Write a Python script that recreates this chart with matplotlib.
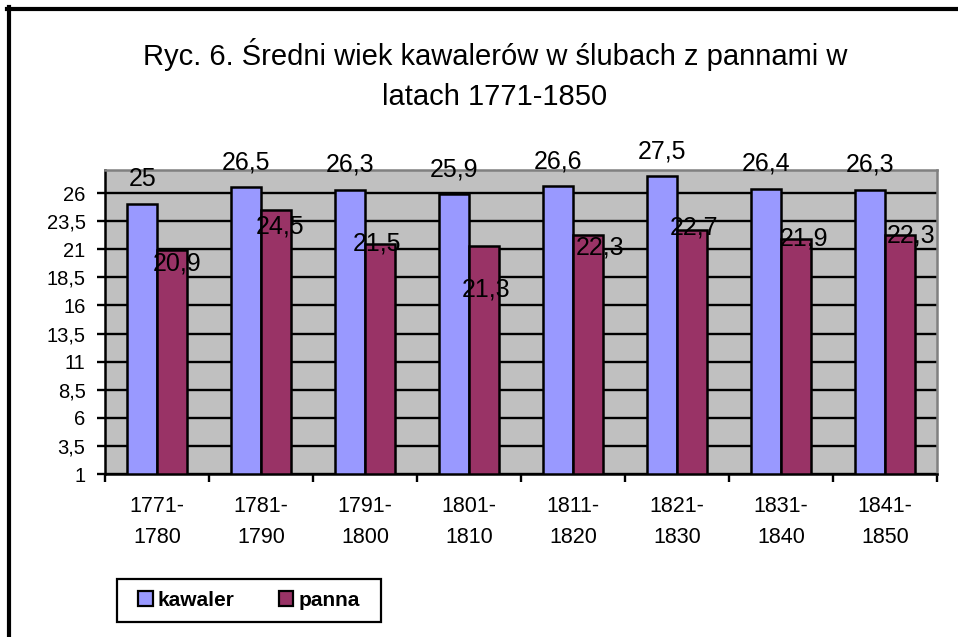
import numpy as np
import matplotlib
matplotlib.use("Agg")
import matplotlib.pyplot as plt
from matplotlib.patches import Rectangle, Patch
from matplotlib.lines import Line2D

plt.rcParams['font.family'] = ['Liberation Sans', 'DejaVu Sans']

# dane z wykresu
okresy = ['1771-\n1780', '1781-\n1790', '1791-\n1800', '1801-\n1810',
          '1811-\n1820', '1821-\n1830', '1831-\n1840', '1841-\n1850']
kawaler = [25, 26.5, 26.3, 25.9, 26.6, 27.5, 26.4, 26.3]
panna = [20.9, 24.5, 21.5, 21.3, 22.3, 22.7, 21.9, 22.3]
y_ticks = [1, 3.5, 6, 8.5, 11, 13.5, 16, 18.5, 21, 23.5, 26]

# przesuniecia etykiet (piksele) - jak w oryginale
panna_dx = [5, 4, -3, 2, 12, 2, 8, 11]
panna_dy = [11, 15, -2, 42, 11, -5, -3, -1]

W, H = 958, 637
fig = plt.figure(figsize=(W / 100, H / 100), dpi=100)
ax = fig.add_axes([105 / W, 1 - 474 / H, (937 - 105) / W, (474 - 170) / H])
ax.set_facecolor('#C0C0C0')

x = np.arange(len(okresy))
w = 0.284
ax.bar(x - w / 2, kawaler, w, color='#9999FF', edgecolor='black', linewidth=1.8, zorder=2)
ax.bar(x + w / 2, panna, w, color='#993366', edgecolor='black', linewidth=1.8, zorder=2)

def fmt(v):
    return f"{v:g}".replace('.', ',')

for i, v in enumerate(kawaler):
    ax.annotate(fmt(v), (x[i] - w / 2, v), xytext=(0, 18), textcoords='offset pixels',
                ha='center', va='baseline', fontsize=18, zorder=5)
for i, v in enumerate(panna):
    ax.annotate(fmt(v), (x[i] + w / 2, v), xytext=(panna_dx[i], -(panna_dy[i] + 9)),
                textcoords='offset pixels', ha='center', va='baseline', fontsize=18, zorder=5)

ax.set_xlim(-0.5, len(okresy) - 0.5)
ax.set_ylim(1, 28.05)
ax.set_yticks(y_ticks)
ax.set_yticklabels([fmt(t) for t in y_ticks], fontsize=14.5)
ax.yaxis.grid(True, color='black', linewidth=1.7)
ax.set_axisbelow(True)
ax.tick_params(axis='y', length=6, width=1.7, pad=8)

ax.set_xticks(np.arange(-0.5, len(okresy), 1))
ax.set_xticklabels([])
ax.tick_params(axis='x', which='major', length=6, width=1.7)
ax.set_xticks(x, minor=True)
ax.set_xticklabels(okresy, minor=True, fontsize=15.5, linespacing=1.6)
ax.tick_params(axis='x', which='minor', length=0, pad=16)

for s in ['left', 'bottom']:
    ax.spines[s].set_color('black')
    ax.spines[s].set_linewidth(1.8)
for s in ['top', 'right']:
    ax.spines[s].set_color('#808080')
    ax.spines[s].set_linewidth(1.8)

fig.text(495 / W, 1 - 65 / H, 'Ryc. 6. Średni wiek kawalerów w ślubach z pannami w',
         ha='center', va='baseline', fontsize=21)
fig.text(495 / W, 1 - 105 / H, 'latach 1771-1850', ha='center', va='baseline', fontsize=21)

# legenda
fig.patches.append(Rectangle((117 / W, 1 - 622 / H), (381 - 117) / W, 43 / H,
                             transform=fig.transFigure, facecolor='none',
                             edgecolor='black', linewidth=1.6))
handles = [Patch(facecolor='#9999FF', edgecolor='black', linewidth=1.6, label='kawaler'),
           Patch(facecolor='#993366', edgecolor='black', linewidth=1.6, label='panna')]
fig.legend(handles=handles, loc='center', bbox_to_anchor=(249 / W, 1 - 600 / H),
           ncol=2, frameon=False, prop={'weight': 'bold', 'size': 15},
           handlelength=0.7, handleheight=0.7, handletextpad=0.25, columnspacing=2.1)

# ramka
fig.add_artist(Line2D([7 / W, 1], [1 - 9 / H, 1 - 9 / H], color='black', linewidth=3,
                      transform=fig.transFigure))
fig.add_artist(Line2D([9 / W, 9 / W], [1 - 7 / H, 0], color='black', linewidth=3,
                      transform=fig.transFigure))

fig.savefig('out.png', dpi=100)
